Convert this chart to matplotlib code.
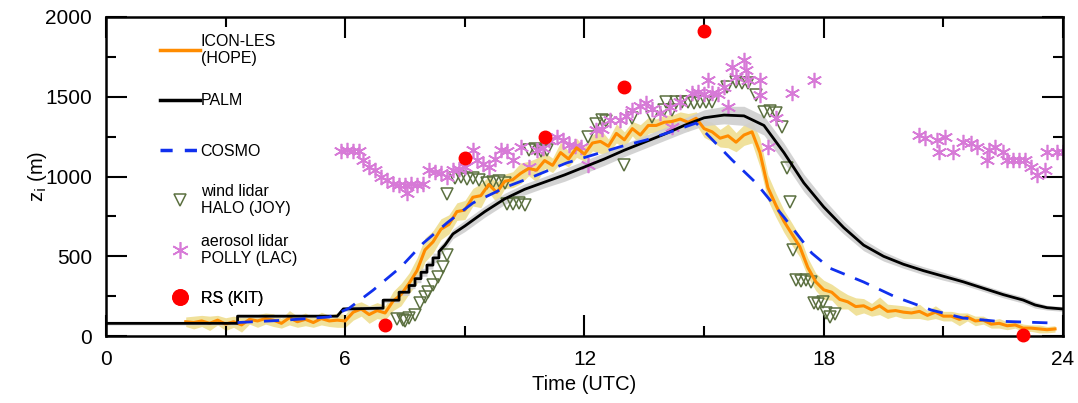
import numpy as np
import matplotlib
matplotlib.use("Agg")
import matplotlib.pyplot as plt
from matplotlib.lines import Line2D
from matplotlib.ticker import MultipleLocator

plt.rcParams["font.family"] = ["Liberation Sans", "DejaVu Sans"]

# ── ICON-LES (HOPE): 0.2 h output from 02 UTC ────────────────────────────────
icon_t0, icon_dt = 2.0, 0.2
icon_z = [90, 85, 95, 80, 100, 75,
          90, 70, 105, 95, 110,
          100, 80, 115, 90, 105,
          85, 110, 95, 100, 95,
          150, 170, 135, 160, 145,
          220, 260, 330, 410, 540,
          590, 670, 700, 780, 790,
          870, 880, 950, 900, 970,
          980, 1020, 1050, 1040, 1100,
          1070, 1150, 1110, 1180, 1140,
          1210, 1220, 1190, 1270, 1230,
          1300, 1260, 1320, 1320, 1340,
          1345, 1360, 1340, 1365, 1300,
          1280, 1240, 1255, 1215, 1260,
          1280, 1150, 930, 820, 720,
          640, 560, 430, 340, 290,
          275, 230, 215, 185, 190,
          165, 190, 155, 160, 150,
          145, 155, 130, 150, 125,
          125, 105, 120, 95, 100,
          75, 80, 65, 70, 50,
          50, 45, 40, 45]
icon_spread = [30, 40, 35, 45, 30, 40,
               35, 45, 30, 40, 35,
               40, 30, 45, 35, 40,
               30, 40, 35, 45, 40,
               50, 45, 55, 50, 45,
               60, 70, 65, 80, 75,
               70, 65, 60, 55, 60,
               55, 75, 50, 65, 45,
               50, 65, 45, 75, 50,
               45, 65, 50, 60, 45,
               50, 75, 45, 60, 50,
               45, 65, 50, 40, 45,
               40, 45, 55, 40, 55,
               60, 55, 75, 60, 65,
               70, 90, 80, 75, 70,
               70, 65, 60, 55, 60,
               50, 60, 45, 55, 45,
               40, 55, 45, 35, 40,
               35, 45, 30, 40, 30,
               30, 40, 25, 30, 25,
               25, 30, 25, 20, 25,
               20, 25, 20, 20]

# ── PALM ─────────────────────────────────────────────────────────────────────
palm_t = [0, 3.3, 3.3, 5.8, 5.95, 6.95, 6.95, 7.35, 7.35, 7.6, 7.6, 7.75, 7.75,
          7.9, 7.9, 8.05, 8.05, 8.2, 8.2, 8.35, 8.35, 8.5, 8.7, 9.0, 9.5, 10.0,
          10.5, 11.0, 11.5, 12.0, 12.5, 13.0, 13.5, 14.0, 14.5, 15.0, 15.5,
          16.0, 16.5, 17.0, 17.5, 18.0, 18.5, 19.0, 19.5, 20.0, 20.5, 21.0,
          21.5, 22.0, 22.5, 23.0, 23.3, 23.6, 24.0]
palm_z = [80, 80, 125, 125, 170, 175, 225, 225, 275, 275, 317, 317, 360,
          360, 400, 400, 445, 445, 490, 490, 530, 570, 640, 690, 780, 860,
          920, 965, 1010, 1060, 1110, 1165, 1215, 1265, 1320, 1368, 1385,
          1380, 1320, 1150, 960, 809, 680, 570, 500, 450, 410, 375,
          340, 300, 260, 226, 195, 178, 170]
palm_spread = [10, 10, 10, 10, 15, 15, 15, 15, 20, 20, 20, 20, 25,
               25, 25, 25, 25, 25, 30, 30, 30, 30, 30, 35, 35, 35,
               35, 35, 40, 40, 40, 40, 40, 40, 45, 50, 55,
               60, 60, 60, 55, 50, 40, 35, 30, 25, 25, 25,
               20, 20, 20, 20, 20, 15, 15]

# ── COSMO ────────────────────────────────────────────────────────────────────
cosmo_t = [3.3, 4.5, 5.6, 6.1, 6.7, 7.4, 7.95, 8.55, 9.2, 10.05, 10.7,
           11.55, 12.9, 13.55, 14.4, 14.8, 15.7, 16.3, 17.0, 17.7, 18.15,
           19.0, 19.8, 20.7, 21.5, 22.3, 23.75]
cosmo_z = [85, 100, 120, 175, 288, 434, 581, 709, 834, 936, 998,
           1085, 1187, 1229, 1300, 1335, 1104, 960, 746, 520, 426,
           339, 245, 163, 113, 94, 82]

# ── wind lidar HALO (JOY) ────────────────────────────────────────────────────
halo_t = [7.3, 7.45, 7.6, 7.75, 7.5, 7.88, 8.0, 8.08, 8.2, 8.33, 8.45, 8.55,
          8.55, 8.75, 8.9, 9.05, 9.2, 9.35, 9.55, 9.7, 9.85, 10.0, 10.05,
          10.2, 10.35, 10.5, 10.6, 10.75, 10.9, 11.05, 12.1, 12.3, 12.45,
          12.55, 13.0, 13.2, 13.7, 14.0, 14.05, 14.2, 14.3, 14.45, 14.6, 14.75,
          14.9, 15.05, 15.2, 15.57, 15.8, 15.95, 16.1, 16.3, 16.5, 16.65,
          16.8, 16.95, 17.08, 17.15, 17.23, 17.3, 17.42, 17.55, 17.68, 17.75,
          17.85, 17.97, 18.05, 18.15, 18.28]
halo_z = [110, 100, 115, 130, 95, 207, 245, 276, 320, 370, 433, 508,
          890, 990, 995, 985, 990, 980, 960, 965, 970, 960, 830,
          825, 835, 820, 1166, 1170, 1160, 1166, 1250, 1330, 1354,
          1345, 1072, 1367, 1373, 1417, 1467, 1417, 1470, 1465, 1467, 1460,
          1470, 1465, 1467, 1561, 1590, 1588, 1586, 1511, 1404, 1410,
          1400, 1310, 1054, 840, 539, 351, 345, 352, 340, 207,
          200, 212, 144, 120, 140]

# ── aerosol lidar POLLY (LAC) ────────────────────────────────────────────────
polly_t = [5.9, 6.05, 6.2, 6.35, 6.45, 6.6, 6.75, 6.9, 7.05, 7.2, 7.35, 7.5,
           7.65, 7.8, 7.95, 7.55, 8.1, 8.25, 8.4, 8.55, 8.7, 8.85, 9.0, 9.2,
           9.3, 9.45, 9.6, 9.75, 9.9, 10.05, 10.2, 10.4, 10.6, 10.8, 10.95,
           11.1, 11.3, 11.45, 11.6, 11.75, 11.9, 12.1, 12.3, 12.45, 12.65,
           12.9, 13.05, 13.2, 13.4, 13.55, 13.7, 13.9, 14.15, 14.2, 14.4,
           14.7, 14.85, 15.0, 15.1, 15.2, 15.35, 15.5, 15.6, 15.7, 15.8, 16.0,
           16.05, 16.1, 16.4, 16.4, 16.6, 16.8, 17.2, 17.75,
           20.4, 20.55, 20.85, 20.9, 21.05, 21.25, 21.5, 21.7, 21.85, 22.1,
           22.15, 22.3, 22.5, 22.6, 22.75, 22.9, 23.05, 23.2, 23.35, 23.55,
           23.6, 23.85, 24.0]
polly_z = [1160, 1165, 1160, 1160, 1104, 1060, 1041, 1000, 980, 955, 947, 947,
           950, 945, 950, 897, 1041, 1030, 1022, 1000, 1041, 1050, 1060, 1166,
           1104, 1080, 1060, 1110, 1166, 1160, 1104, 1185, 1060, 1166, 1180,
           1229, 1248, 1229, 1200, 1190, 1185, 1072, 1292, 1300, 1354,
           1354, 1380, 1417, 1440, 1461, 1420, 1400, 1436, 1310, 1467,
           1524, 1530, 1520, 1605, 1525, 1520, 1561, 1436, 1687, 1624, 1730,
           1668, 1605, 1605, 1511, 1185, 1367, 1524, 1605,
           1260, 1240, 1229, 1154, 1248, 1154, 1217, 1210, 1185, 1104,
           1166, 1185, 1154, 1104, 1104, 1104, 1104, 1060, 1010, 1041,
           1154, 1154, 1154]

# ── radiosondes RS (KIT) ─────────────────────────────────────────────────────
rs_t = [7.0, 9.0, 11.0, 13.0, 15.0, 23.0]
rs_z = [69, 1116, 1248, 1561, 1912, 10]


def main():
    icon_t = np.round(icon_t0 + icon_dt * np.arange(len(icon_z)), 2)
    iz = np.array(icon_z, float)
    isp = np.array(icon_spread, float)
    pz = np.array(palm_z, float)
    psp = np.array(palm_spread, float)

    fig = plt.figure(figsize=(10.78, 4.03), dpi=100)
    ax = fig.add_axes([0.0983, 0.166, 0.8878, 0.792])

    # ensemble spreads
    ax.fill_between(icon_t, iz - isp, iz + isp,
                    color="#eedc8a", alpha=0.85, lw=0, zorder=1)
    ax.fill_between(palm_t, pz - psp, pz + psp,
                    color="#cfcfcf", alpha=0.9, lw=0, zorder=1)

    # observations
    ax.plot(halo_t, halo_z, ls="none", marker="v", ms=8, mfc="none",
            mec="#5b7040", mew=1.1, zorder=2)
    ax.plot(polly_t, polly_z, ls="none", marker=(6, 2, 0), ms=11,
            mec="#d77ad7", mew=1.2, zorder=2)

    # models
    ax.plot(icon_t, iz, color="#ff8c00", lw=2.2, zorder=3)
    ax.plot(palm_t, pz, color="black", lw=2.0, zorder=4)
    ax.plot(cosmo_t, cosmo_z, color="#1030ee", lw=2.0, dashes=(5.5, 4), zorder=5)

    ax.plot(rs_t, rs_z, ls="none", marker="o", ms=9, mfc="red", mec="red",
            zorder=6, clip_on=False)

    ax.set_xlim(0, 24)
    ax.set_ylim(0, 2000)
    ax.xaxis.set_major_locator(MultipleLocator(6))
    ax.xaxis.set_minor_locator(MultipleLocator(3))
    ax.yaxis.set_major_locator(MultipleLocator(500))
    ax.yaxis.set_minor_locator(MultipleLocator(250))
    ax.tick_params(which="both", direction="in", top=True, right=True,
                   width=1.5, labelsize=15)
    ax.tick_params(which="major", length=15, pad=10)
    ax.tick_params(which="minor", length=7)
    for s in ax.spines.values():
        s.set_linewidth(1.8)

    ax.set_xlabel("Time (UTC)", fontsize=14.5, labelpad=4)
    ax.set_ylabel(r"z$_\mathrm{i}$ (m)", fontsize=14.5, labelpad=-3)

    # legend: one entry per row, evenly spaced like the original
    entries = [
        (Line2D([], [], color="#ff8c00", lw=2.5), "ICON-LES\n(HOPE)", 0.8966),
        (Line2D([], [], color="black", lw=2.5), "PALM", 0.7367),
        (Line2D([], [], color="#1030ee", lw=2.5, dashes=(3.5, 3.5)), "COSMO", 0.5799),
        (Line2D([], [], ls="none", marker="v", ms=9, mfc="none", mec="#5b7040",
                mew=1.1), "wind lidar\nHALO (JOY)", 0.4263),
        (Line2D([], [], ls="none", marker=(6, 2, 0), ms=12, mec="#d77ad7",
                mew=1.2), "aerosol lidar\nPOLLY (LAC)", 0.2696),
        (Line2D([], [], ls="none", marker="o", ms=11, mfc="red", mec="red"),
         "RS (KIT)", 0.1191),
    ]
    for h, lab, yc in entries:
        leg = ax.legend([h], [lab], loc="center left", bbox_to_anchor=(0.0564, yc),
                        frameon=False, fontsize=11.5, handlelength=2.5,
                        handletextpad=0.05, borderpad=0, borderaxespad=0)
        ax.add_artist(leg)

    fig.savefig("out.png", dpi=100)
    plt.close(fig)


if __name__ == "__main__":
    main()
